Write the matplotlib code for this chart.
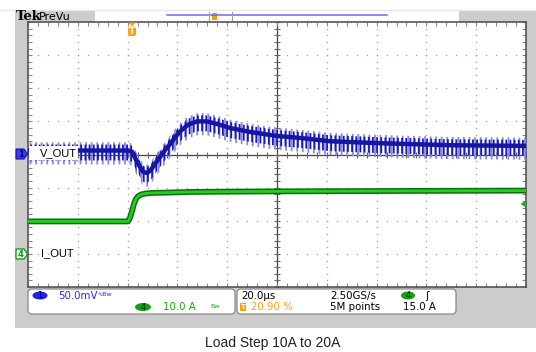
import numpy as np
import matplotlib
matplotlib.use("Agg")
import matplotlib.pyplot as plt
from matplotlib.patches import Rectangle, FancyBboxPatch, Polygon, Ellipse

# ---------------- data ----------------
t_vout_us = [-41.8, -1.6, 0.0, 1.6, 3.2, 4.4, 6.0, 7.6, 9.2, 11.2, 13.3, 15.3, 17.3,
             19.3, 22.5, 26.1, 30.1, 34.1, 39.4, 47.4, 58.2, 67.5, 79.5, 99.6, 127.7, 158.2]
v_out_mv = [6, 6, 4, -8, -19, -26, -28, -23, -14, -4, 7, 16, 26,
            35, 45, 50, 50, 46, 40, 34, 28, 25, 20, 17, 14, 13]

t_iout_us = [-41.8, -1.6, -0.8, 0.0, 0.8, 1.6, 2.4, 3.6, 5.2, 8.0, 14.0, 24.0, 40.0, 70.0, 110.0, 158.2]
i_out_a = [9.8, 9.8, 11.0, 13.0, 15.2, 16.6, 17.4, 17.9, 18.2, 18.4, 18.5, 18.7, 18.8, 18.9, 19.0, 19.1]

ch1_scale_mv = 50.0        # mV/div
ch4_scale_a = 10.0         # A/div
ch1_offset_div = 0.0
ch4_offset_div = -3.0
time_scale_us = 20.0       # us/div
trigger_pos = 0.209        # 20.90 %
n_xdiv, n_ydiv = 10, 8

ch1_label = "V_OUT"
ch4_label = "I_OUT"
caption = "Load Step 10A to 20A"

# ---------------- figure ----------------
W, H = 536, 352
plt.rcParams["hatch.linewidth"] = 1.3
fig = plt.figure(figsize=(W / 100, H / 100), dpi=100)
fig.patch.set_facecolor("white")

bg = fig.add_axes([0, 0, 1, 1], zorder=0)
bg.set_xlim(0, W); bg.set_ylim(H, 0); bg.axis("off")

gray = "#cccccc"
bg.plot([0, W], [10, 10], color="#e6e6e6", lw=1)
bg.add_patch(Rectangle((15, 11), W - 15, 317, color=gray, lw=0))
bg.add_patch(Rectangle((95, 11), 364, 11, color="white", lw=0))
bg.text(15.5, 16.5, "Tek", fontsize=9.5, fontweight="bold", family="DejaVu Serif",
        va="center", ha="left", color="black")
bg.text(39, 16.5, "PreVu", fontsize=8, va="center", ha="left", color="black")
bg.plot([167, 387], [15, 15], color="#6b6bef", lw=1.1)
for bx in (209, 232):
    bg.plot([bx, bx], [12, 20], color="#a0a0a0", lw=0.8)
bg.add_patch(Rectangle((212, 13), 5, 7, color="#f39c12", lw=0))

# ---------------- graticule axes ----------------
gx0, gy0, gx1, gy1 = 28, 22, 526, 287
ax = fig.add_axes([gx0 / W, 1 - gy1 / H, (gx1 - gx0) / W, (gy1 - gy0) / H], zorder=1)
x0 = -trigger_pos * n_xdiv * time_scale_us
x1 = x0 + n_xdiv * time_scale_us
ax.set_xlim(x0, x1)
ax.set_ylim(-n_ydiv / 2, n_ydiv / 2)
ax.set_facecolor("white")
for s in ax.spines.values():
    s.set_color("#555555"); s.set_linewidth(1.2)

xt = np.linspace(x0, x1, n_xdiv * 5 + 1)
yt = np.linspace(-n_ydiv / 2, n_ydiv / 2, n_ydiv * 5 + 1)
ax.set_xticks(xt); ax.set_yticks(yt)
ax.tick_params(direction="in", length=3, width=0.8, color="#8a8a8a",
               top=True, right=True, labelbottom=False, labelleft=False)

dot = dict(ls="none", marker="s", ms=1.0, mew=0, color="#a8a8a8", zorder=1)
for k in range(1, n_xdiv):
    if k == n_xdiv // 2:
        continue
    ax.plot(np.full_like(yt, x0 + k * time_scale_us), yt, **dot)
for j in range(1, n_ydiv):
    yy = j - n_ydiv / 2
    if yy == 0:
        continue
    ax.plot(xt, np.full_like(xt, yy), **dot)
xc = x0 + n_xdiv / 2 * time_scale_us
ax.axvline(xc, color="#444444", lw=0.9, zorder=1.5)
ax.axhline(0, color="#444444", lw=0.9, zorder=1.5)
ax.plot(np.full_like(yt, xc), yt, ls="none", marker="_", ms=4, mew=0.8, color="#666666", zorder=1.5)
ax.plot(xt, np.zeros_like(xt), ls="none", marker="|", ms=4, mew=0.8, color="#666666", zorder=1.5)

# ---------------- traces ----------------
ti = np.array(t_iout_us)
ci = np.array(i_out_a) / ch4_scale_a + ch4_offset_div
ax.plot(ti, ci, color="#0d6e0d", lw=4.2, solid_joinstyle="round", zorder=3)
ax.plot(ti, ci, color="#26cc26", lw=2.0, solid_joinstyle="round", zorder=3.1)

tv = np.array(t_vout_us)
cv = np.array(v_out_mv) / ch1_scale_mv + ch1_offset_div
ax.fill_between(tv, cv - 0.42, cv + 0.25, facecolor="none", edgecolor="#8a8ae2",
                hatch="|||", linewidth=0, zorder=4)
ax.fill_between(tv, cv - 0.30, cv + 0.18, facecolor="none", edgecolor="#1818b8",
                hatch="||||", linewidth=0, zorder=4.1)
ax.plot(tv, cv, color="#1616a4", lw=3.2, solid_joinstyle="round", zorder=4.2)

# ---------------- overlay (markers, labels, readouts) ----------------
ov = fig.add_axes([0, 0, 1, 1], zorder=5)
ov.set_xlim(0, W); ov.set_ylim(H, 0); ov.axis("off")
ov.patch.set_alpha(0)

# channel labels
ov.add_patch(Rectangle((29, 146), 49, 14, color="white", lw=0))
ov.text(40, 153.5, ch1_label, fontsize=8, family="Liberation Sans", va="center", ha="left")
ov.text(41, 253.5, ch4_label, fontsize=8, family="Liberation Sans", va="center", ha="left")

# channel markers
ov.add_patch(Polygon([(16, 149), (24, 149), (27.5, 154), (24, 159), (16, 159)],
                     closed=True, facecolor="#3a3aff", edgecolor="#1010a0", lw=0.8))
ov.text(20.5, 154.3, "1", fontsize=6, fontweight="bold", color="#00006a", ha="center", va="center")
ov.add_patch(Polygon([(16, 249), (24, 249), (27.5, 254), (24, 259), (16, 259)],
                     closed=True, facecolor="white", edgecolor="#10a010", lw=1.0))
ov.text(20.5, 254.3, "4", fontsize=6, fontweight="bold", color="#109010", ha="center", va="center")

# trigger level marker (right)
ov.add_patch(Polygon([(526, 200.5), (526, 207.5), (520.5, 204)], closed=True,
                     facecolor="#22aa22", edgecolor="none"))

# trigger position marker (top)
tx = gx0 + trigger_pos * (gx1 - gx0)
ov.add_patch(Polygon([(tx - 4, 22.5), (tx + 4, 22.5), (tx, 26)], closed=True,
                     facecolor="#f5a21b", edgecolor="none"))
ov.add_patch(FancyBboxPatch((tx - 4, 26.5), 8, 9.5, boxstyle="round,pad=0,rounding_size=2.5",
                            facecolor="#f5a21b", edgecolor="none"))
ov.text(tx, 31.5, "T", fontsize=6, fontweight="bold", color="white", ha="center", va="center")

# readout boxes
for (bx0, bx1) in ((28, 235), (237, 456)):
    ov.add_patch(FancyBboxPatch((bx0, 289), bx1 - bx0, 25,
                                boxstyle="round,pad=0,rounding_size=4",
                                facecolor="white", edgecolor="#8a8a8a", lw=0.9))

fs = 7.4
ov.add_patch(Ellipse((40, 295.5), 15, 8, facecolor="#2222ee", edgecolor="none"))
ov.text(40, 295.8, "1", fontsize=6, color="#00005a", ha="center", va="center")
ov.text(58, 296, "50.0mV", fontsize=fs, color="#2a2aff", ha="left", va="center")
ov.text(97, 295, "\u223fBw", fontsize=4.5, color="#2a2aff", ha="left", va="center")
ov.add_patch(Ellipse((143, 307), 16, 8, facecolor="#13a013", edgecolor="none"))
ov.text(143, 307.3, "4", fontsize=6, color="#003000", ha="center", va="center")
ov.text(163, 307.5, "10.0 A", fontsize=fs, color="#12a812", ha="left", va="center")
ov.text(210, 307, "Bw", fontsize=4.5, color="#12a812", ha="left", va="center")

ov.text(241, 296, "20.0\u00b5s", fontsize=fs, color="black", ha="left", va="center")
ov.add_patch(Rectangle((240, 303), 6, 8, facecolor="#f5a21b", edgecolor="none"))
ov.text(243, 307.3, "T", fontsize=5, fontweight="bold", color="white", ha="center", va="center")
ov.text(251, 307.5, "20.90 %", fontsize=fs, color="#f5a21b", ha="left", va="center")
ov.text(330, 296, "2.50GS/s", fontsize=fs, color="black", ha="left", va="center")
ov.text(330, 307.5, "5M points", fontsize=fs, color="black", ha="left", va="center")
ov.add_patch(Ellipse((408, 295.5), 14, 8, facecolor="#13a013", edgecolor="none"))
ov.text(408, 295.8, "4", fontsize=6, color="#003000", ha="center", va="center")
ov.text(425, 296, "\u0283", fontsize=7.5, color="black", ha="left", va="center")
ov.text(403, 307.5, "15.0 A", fontsize=fs, color="black", ha="left", va="center")

# caption
ov.text(273, 343, caption, fontsize=10, family="Liberation Sans", color="#222222",
        ha="center", va="center")

fig.savefig("out.png", dpi=100)
